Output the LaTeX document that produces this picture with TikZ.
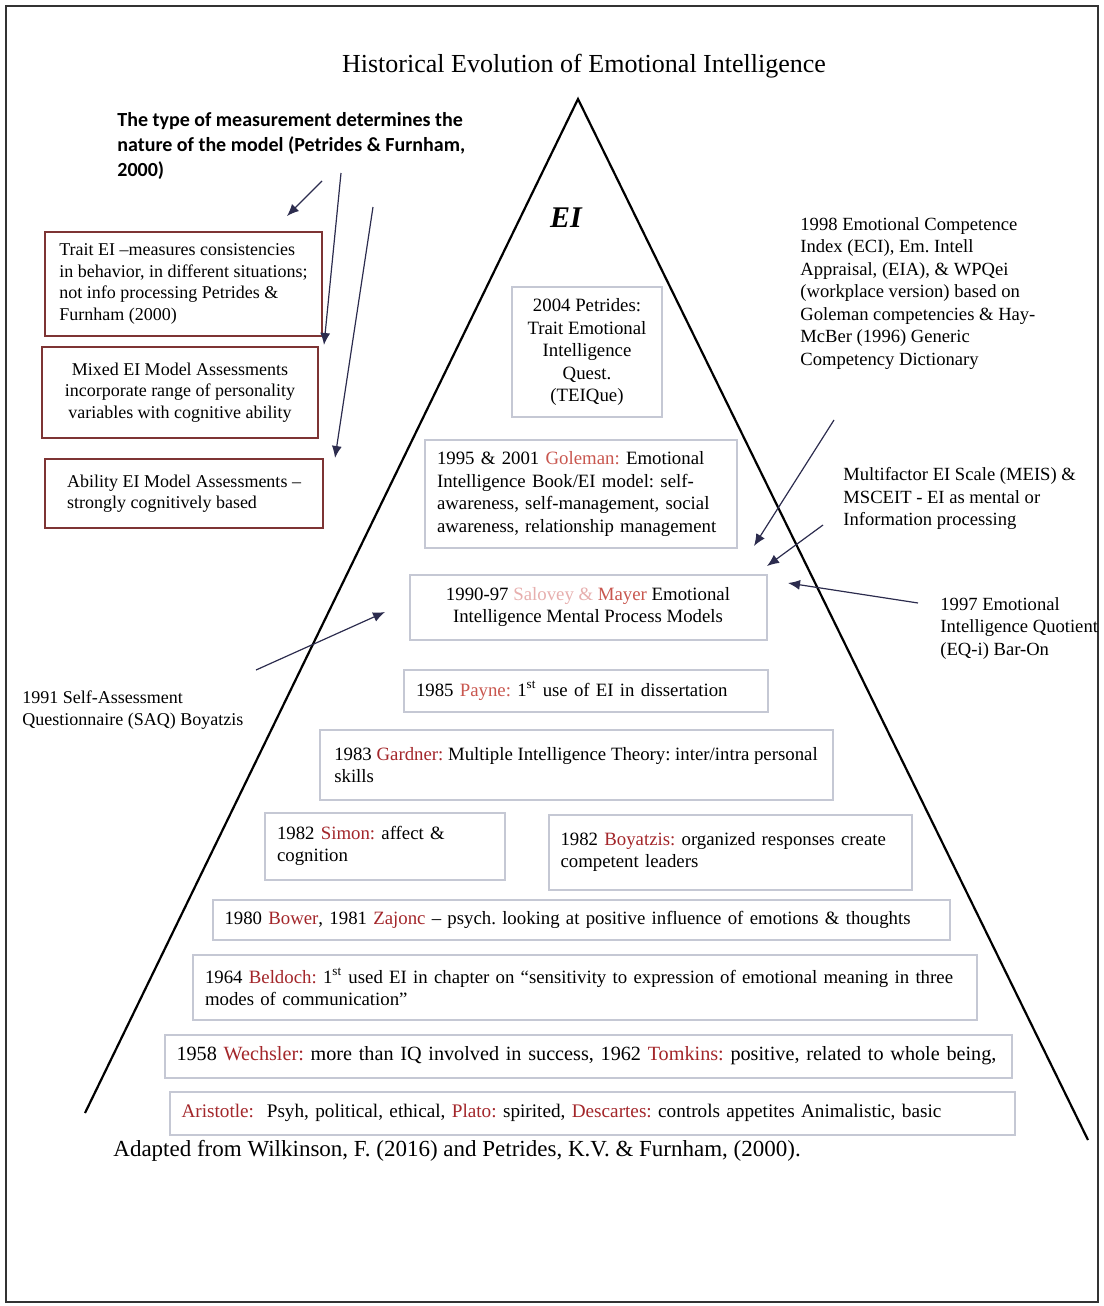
\documentclass[tikz,border=0pt]{standalone}
\usepackage{fontspec}
\setmainfont{Liberation Serif}
\newfontfamily\notefont{Carlito}
\usepackage{xcolor}
\usepackage{tikz}
\usetikzlibrary{arrows.meta}
\definecolor{namered}{HTML}{A3262A}
\definecolor{palered}{HTML}{C9574F}
\definecolor{pinkred}{HTML}{E7AFAE}
\definecolor{boxgray}{HTML}{C5C8D4}
\definecolor{msred}{HTML}{7E3434}
\definecolor{arrowblue}{HTML}{2C2C4E}
\newcommand{\einame}[1]{\textcolor{namered}{#1}}
\frenchspacing

\begin{document}
\begin{tikzpicture}[x=0.5pt, y=-0.5pt, >={Latex[length=6pt,width=5pt]},
  evbox/.style={draw=boxgray, line width=1pt, fill=white, inner xsep=6pt, inner ysep=2pt, align=left, font=\fontsize{9.4}{11.25}\selectfont},
  msbox/.style={draw=msred, line width=0.8pt, fill=white, inner xsep=6pt, align=left, font=\fontsize{9}{10.8}\selectfont},
  note/.style={inner sep=0pt, anchor=north west, align=left, font=\fontsize{9.3}{11.25}\selectfont},
  ptr/.style={->, draw=arrowblue, line width=0.6pt}]
  \useasboundingbox (0,0) rectangle (1103,1306);
  \draw[line width=0.75pt, black!80] (6,6) rectangle (1098,1302);
  \node[font=\fontsize{13}{15}\selectfont](title) at (584,66){Historical Evolution of Emotional Intelligence};

  \coordinate (apex) at (578,99);
  \coordinate (baseL) at (85,1113);
  \coordinate (baseR) at (1088,1140);
  \draw[line width=1.1pt] (baseL) -- (apex) -- (baseR);
  \node[font=\fontsize{15}{16}\selectfont\bfseries\itshape](ei) at (566,218){EI};

  \node[evbox, align=center, minimum width=75pt, minimum height=65pt](petrides) at (587,352){2004 Petrides:\\Trait Emotional\\Intelligence\\Quest.\\(TEIQue)};
  \node[evbox, text width=144pt, minimum height=54pt](goleman) at (581,494){1995 \& 2001 \textcolor{palered}{Goleman:} Emotional\\Intelligence Book/EI model: self-\\awareness, self-management, social\\awareness, relationship management};
  \node[evbox, align=center, minimum width=178.5pt, minimum height=32.5pt](salovey) at (588,607){1990-97 \textcolor{pinkred}{Salovey \&} \textcolor{palered}{Mayer} Emotional\\Intelligence Mental Process Models};
  \node[evbox, text width=170pt, minimum height=21pt](payne) at (586,691){1985 \textcolor{palered}{Payne:} 1\textsuperscript{st} use of EI in dissertation};
  \node[evbox, minimum width=256.5pt, minimum height=35pt](gardner) at (576,765){1983 \einame{Gardner:} Multiple Intelligence Theory: inter/intra personal\\skills};
  \node[evbox, text width=108pt, minimum height=33.5pt](simon) at (385,846){1982 \einame{Simon:} affect \&\\cognition};
  \node[evbox, text width=169.5pt, minimum height=37.5pt](boyatzis) at (730,852){1982 \einame{Boyatzis:} organized responses create\\competent leaders};
  \node[evbox, text width=356.5pt, minimum height=20pt](bower) at (581,920){1980 \einame{Bower}, 1981 \einame{Zajonc} – psych. looking at positive influence of emotions \& thoughts};
  \node[evbox, text width=380pt, minimum height=32.5pt](beldoch) at (585,987){1964 \einame{Beldoch:} 1\textsuperscript{st} used EI in chapter on “sensitivity to expression of emotional meaning in three\\modes of communication”};
  \node[evbox, text width=411.5pt, minimum height=21.5pt, font=\fontsize{10.1}{12}\selectfont](wechsler) at (588,1056){1958 \einame{Wechsler:} more than IQ involved in success, 1962 \einame{Tomkins:} positive, related to whole being,};
  \node[evbox, text width=410.5pt, minimum height=21.5pt, font=\fontsize{9.6}{12}\selectfont](aristotle) at (592,1113){\einame{Aristotle:}\ \ Psyh, political, ethical, \einame{Plato:} spirited, \einame{Descartes:} controls appetites Animalistic, basic};

  \node[note, font=\notefont\bfseries\fontsize{10}{12.5}\selectfont](measure) at (117,112){The type of measurement determines the\\nature of the model (Petrides \& Furnham,\\2000)};
  \node[msbox, minimum width=138.5pt, minimum height=52pt](trait) at (183.5,284){Trait EI –measures consistencies\\in behavior, in different situations;\\not info processing Petrides \&\\Furnham (2000)};
  \node[msbox, align=center, minimum width=138pt, minimum height=45.5pt](mixed) at (180,392.5){Mixed EI Model Assessments\\incorporate range of personality\\variables with cognitive ability};
  \node[msbox, minimum width=139pt, minimum height=34.5pt](ability) at (184,493.5){Ability EI Model Assessments –\\strongly cognitively based};

  \node[note](eci) at (800,217){1998 Emotional Competence\\Index (ECI), Em. Intell\\Appraisal, (EIA), \& WPQei\\(workplace version) based on\\Goleman competencies \& Hay-\\McBer (1996) Generic\\Competency Dictionary};
  \node[note](meis) at (843,467){Multifactor EI Scale (MEIS) \&\\MSCEIT - EI as mental or\\Information processing};
  \node[note](eqi) at (940,597){1997 Emotional\\Intelligence Quotient\\(EQ-i) Bar-On};
  \node[note, font=\fontsize{9}{11.25}\selectfont](saq) at (22,690){1991 Self-Assessment\\Questionnaire (SAQ) Boyatzis};
  \node[note, font=\fontsize{11.5}{13}\selectfont](source) at (113,1140){Adapted from Wilkinson, F. (2016) and Petrides, K.V. \& Furnham, (2000).};

  \coordinate (m1s) at (322,181); \coordinate (m1e) at (287,216);
  \coordinate (m2s) at (341,173); \coordinate (m2e) at (324,345);
  \coordinate (m3s) at (373,207); \coordinate (m3e) at (335,458);
  \coordinate (e1s) at (834,420); \coordinate (e1e) at (754,546);
  \coordinate (e2s) at (823,525); \coordinate (e2e) at (767,566);
  \coordinate (e3s) at (918,603); \coordinate (e3e) at (788,583);
  \coordinate (e4s) at (256,670); \coordinate (e4e) at (385,612);
  \foreach \a/\b in {m1s/m1e,m2s/m2e,m3s/m3e,e1s/e1e,e2s/e2e,e3s/e3e,e4s/e4e}{\draw[ptr](\a)--(\b);}
\end{tikzpicture}
\end{document}
